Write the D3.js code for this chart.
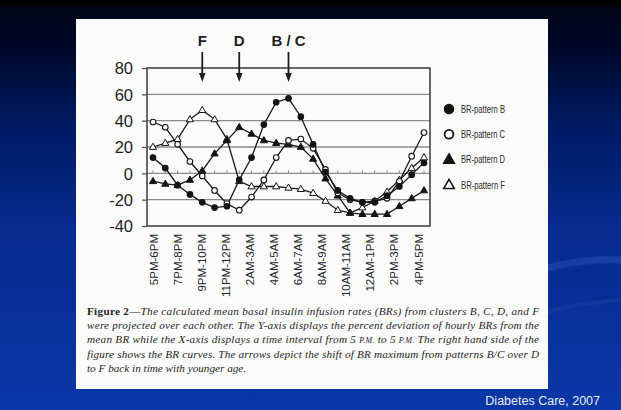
<!DOCTYPE html>
<html>
<head>
<meta charset="utf-8">
<script src="https://cdn.jsdelivr.net/npm/d3@7"></script>
<style>
  html, body { margin: 0; padding: 0; background: #000; }
  svg { display: block; }
</style>
</head>
<body>
<svg id="slide" width="621" height="410"></svg>
<script>
// Hourly points, 5 PM onward
const hourIndex = d3.range(23);
const tickLabels = ["5PM-6PM", "7PM-8PM", "9PM-10PM", "11PM-12PM", "2AM-3AM", "4AM-5AM",
                    "6AM-7AM", "8AM-9AM", "10AM-11AM", "12AM-1PM", "2PM-3PM", "4PM-5PM"];
const yTicks = [-40, -20, 0, 20, 40, 60, 80];

// Percent deviation of hourly BR from the mean BR
const patternB = [12, 4, -9, -16, -22, -26, -25, -5, 12, 37, 54, 57, 43, 22, 1, -13, -19, -22, -22, -17, -10, -1, 8];
const patternC = [39, 35, 22, 9, -2, -13, -23, -28, -18, -5, 12, 25, 26, 19, 3, -15, -20, -22, -21, -19, -6, 13, 31];
const patternD = [-6, -8, -9, -5, 2, 15, 25, 35, 30, 25, 23, 22, 20, 11, -4, -17, -30, -31, -31, -31, -25, -19, -13];
const patternF = [20, 23, 26, 41, 48, 41, 26, -6, -10, -10, -10, -11, -12, -15, -21, -28, -30, -26, -21, -14, -5, 4, 12];

const legendLabels = ["BR-pattern B", "BR-pattern C", "BR-pattern D", "BR-pattern F"];
const arrowLabels = ["F", "D", "B / C"];
const arrowAt = [4, 7, 11];

// caption segments: b = bold upright, i = italic, s = small caps
const captionLines = [
  [["Figure 2—", "b"], ["The calculated mean basal insulin infusion rates (BRs) from clusters B, C, D, and F", "i"]],
  [["were projected over each other. The Y-axis displays the percent deviation of hourly BRs from the", "i"]],
  [["mean BR while the X-axis displays a time interval from 5 ", "i"], ["P.M.", "s"], [" to 5 ", "i"], ["P.M.", "s"], [" The right hand side of the", "i"]],
  [["figure shows the BR curves. The arrows depict the shift of BR maximum from patterns B/C over D", "i"]],
  [["to F back in time with younger age.", "i"]]
];
const sourceNote = "Diabetes Care, 2007";

const series = [
  { label: legendLabels[3], values: patternF, shape: "triangle", filled: false },
  { label: legendLabels[2], values: patternD, shape: "triangle", filled: true },
  { label: legendLabels[1], values: patternC, shape: "circle", filled: false },
  { label: legendLabels[0], values: patternB, shape: "circle", filled: true }
];
const legendOrder = [3, 2, 1, 0];

const svg = d3.select("#slide");
const W = 621, H = 410;

// ---- slide background ----
const defs = svg.append("defs");
const bg = defs.append("linearGradient").attr("id", "bg").attr("x1", 0).attr("y1", 0).attr("x2", 0).attr("y2", 1);
[[0, "#000412"], [0.12, "#00082a"], [0.3, "#001a62"], [0.55, "#062a8e"], [1, "#0b37a8"]]
  .forEach(([o, c]) => bg.append("stop").attr("offset", o).attr("stop-color", c));
svg.append("rect").attr("width", W).attr("height", H).attr("fill", "url(#bg)");
svg.append("rect").attr("width", W).attr("height", 7).attr("fill", "#000");
// faint swooshes on the right
svg.append("path").attr("d", "M470,300 Q560,250 640,262").attr("fill", "none")
  .attr("stroke", "#2d55b8").attr("stroke-opacity", 0.45).attr("stroke-width", 7);
svg.append("path").attr("d", "M500,330 Q560,300 640,300").attr("fill", "none")
  .attr("stroke", "#2a50b0").attr("stroke-opacity", 0.3).attr("stroke-width", 4);

// ---- white figure panel ----
svg.append("rect").attr("x", 76).attr("y", 19).attr("width", 472).attr("height", 370).attr("fill", "#fbfbfb");

// ---- scales ----
const plot = { left: 147, right: 430, top: 68, bottom: 226 };
const x = d3.scalePoint().domain(hourIndex).range([153, 424]);
const xLab = d3.scalePoint().domain(tickLabels).range([153, 418]);
const y = d3.scaleLinear().domain([-40, 80]).range([plot.bottom, plot.top]);

const ink = "#1e1e1e";

// gridlines
const g = svg.append("g");
g.selectAll("line.grid").data(yTicks.filter(v => v > -40 && v < 80)).join("line")
  .attr("class", "grid")
  .attr("x1", plot.left).attr("x2", plot.right)
  .attr("y1", d => y(d)).attr("y2", d => y(d))
  .attr("stroke", "#8a8a8a").attr("stroke-width", 1.3);

// small hour ticks on the zero line
g.selectAll("line.htick").data(hourIndex).join("line")
  .attr("class", "htick")
  .attr("x1", d => x(d)).attr("x2", d => x(d))
  .attr("y1", y(0)).attr("y2", y(0) - 3)
  .attr("stroke", "#8a8a8a").attr("stroke-width", 1);

// frame
g.append("rect").attr("x", plot.left).attr("y", plot.top)
  .attr("width", plot.right - plot.left).attr("height", plot.bottom - plot.top)
  .attr("fill", "none").attr("stroke", "#3a3a3a").attr("stroke-width", 1.5);

// y axis (plain hyphen for negatives)
const yAxis = svg.append("g").attr("transform", `translate(${plot.left},0)`)
  .call(d3.axisLeft(y).tickValues(yTicks).tickSize(5).tickPadding(9).tickFormat(d => String(d)));
yAxis.select(".domain").remove();
yAxis.selectAll(".tick line").attr("stroke", "#555").attr("stroke-width", 1.3);
yAxis.selectAll(".tick text")
  .attr("font-family", "'Liberation Sans', Arial, sans-serif").attr("font-size", 16.5)
  .attr("fill", ink).attr("dy", "0.35em");

// x axis labels (rotated)
const xAxis = svg.append("g").attr("transform", `translate(0,${plot.bottom})`)
  .call(d3.axisBottom(xLab).tickSize(0).tickPadding(0));
xAxis.select(".domain").remove();
xAxis.selectAll(".tick text")
  .attr("font-family", "'Liberation Sans', Arial, sans-serif").attr("font-size", 11.5)
  .attr("fill", ink)
  .attr("text-anchor", "end")
  .attr("transform", "rotate(-90)")
  .attr("x", -8).attr("y", 0).attr("dy", "0.35em");

// ---- series ----
const line = d3.line().x((d, i) => x(i)).y(d => y(d));
const tri = (size) => d3.symbol().type(d3.symbolTriangle).size(size)();

function drawMarker(sel, shape, filled, cx, cy, big) {
  if (shape === "circle") {
    sel.append("circle").attr("cx", cx).attr("cy", cy).attr("r", big ? 4.4 : 2.8)
      .attr("fill", filled ? "#141414" : "#fff").attr("stroke", "#141414")
      .attr("stroke-width", big ? 1.8 : 1.1);
  } else {
    sel.append("path").attr("d", tri(big ? 48 : 22))
      .attr("transform", `translate(${cx},${cy + (big ? 0.5 : 0.3)})`)
      .attr("fill", filled ? "#141414" : "#fff").attr("stroke", "#141414")
      .attr("stroke-width", big ? 1.6 : 1.0).attr("stroke-linejoin", "miter");
  }
}

const sg = svg.append("g");
series.forEach(s => {
  sg.append("path").datum(s.values).attr("d", line)
    .attr("fill", "none").attr("stroke", "#1a1a1a").attr("stroke-width", 1.3);
});
series.forEach(s => {
  const m = sg.append("g");
  s.values.forEach((v, i) => drawMarker(m, s.shape, s.filled, x(i), y(v), false));
});

// ---- arrows marking the BR maxima ----
const ag = svg.append("g");
arrowLabels.forEach((lab, k) => {
  const ax = x(arrowAt[k]);
  ag.append("text").attr("x", ax).attr("y", 46).attr("text-anchor", "middle")
    .attr("font-family", "'Liberation Sans', Arial, sans-serif").attr("font-weight", "bold")
    .attr("font-size", 15).attr("fill", ink).text(lab);
  ag.append("line").attr("x1", ax).attr("x2", ax).attr("y1", 52).attr("y2", 76)
    .attr("stroke", ink).attr("stroke-width", 1.8);
  ag.append("path").attr("d", `M${ax - 3.3},73 L${ax + 3.3},73 L${ax},82 Z`).attr("fill", ink);
});

// ---- legend ----
const lg = svg.append("g");
legendOrder.forEach((si, r) => {
  const s = series[si];
  const ly = 109 + r * 25.3;
  drawMarker(lg, s.shape, s.filled, 449, ly, true);
  lg.append("text").attr("x", 461).attr("y", ly).attr("dy", "0.35em")
    .attr("font-family", "'Liberation Sans', Arial, sans-serif").attr("font-size", 10.5)
    .attr("textLength", 44).attr("lengthAdjust", "spacingAndGlyphs")
    .attr("fill", "#2a2a2a").text(s.label);
});

// ---- caption ----
const cg = svg.append("g").attr("font-family", "'Liberation Serif', 'DejaVu Serif', serif")
  .attr("font-size", 11.2).attr("fill", "#262626");
captionLines.forEach((segs, k) => {
  const t = cg.append("text").attr("x", 87).attr("y", 315 + k * 14.2);
  if (k < captionLines.length - 1) t.attr("textLength", 452).attr("lengthAdjust", "spacing");
  segs.forEach(([txt, st]) => {
    const ts = t.append("tspan").text(txt);
    if (st === "b") ts.attr("font-weight", "bold");
    else ts.attr("font-style", "italic");
    if (st === "s") ts.attr("font-size", 8);
  });
});

// ---- source note ----
svg.append("text").attr("x", 600).attr("y", 405).attr("text-anchor", "end")
  .attr("font-family", "'Liberation Sans', Arial, sans-serif").attr("font-size", 12.5)
  .attr("fill", "#e6ebf5").text(sourceNote);
</script>
</body>
</html>
